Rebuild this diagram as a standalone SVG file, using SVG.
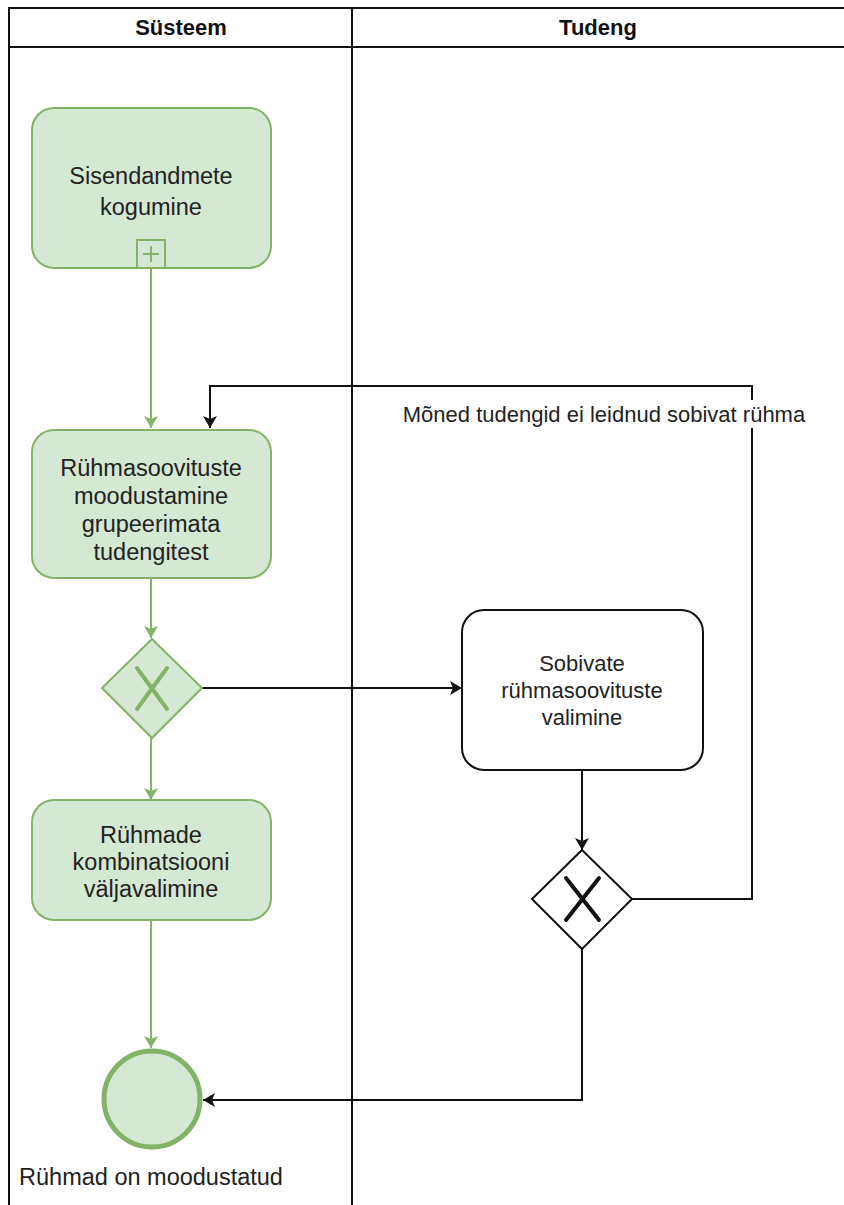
<svg xmlns="http://www.w3.org/2000/svg" width="844" height="1205" viewBox="0 0 844 1205">
<defs>
<style>
text{font-family:"Liberation Sans",Arial,sans-serif;font-size:22px;fill:#222;text-anchor:middle;}
.hdr{font-weight:bold;fill:#111;}
.big{font-size:23.5px;}
.lane{fill:none;stroke:#111;stroke-width:2;}
.gtask{fill:#d5e8d4;stroke:#82b366;stroke-width:2;}
.wtask{fill:#fff;stroke:#111;stroke-width:2;}
.gline{fill:none;stroke:#82b366;stroke-width:2;}
.bline{fill:none;stroke:#111;stroke-width:2;}
</style>
<marker id="ag" viewBox="0 0 12 14" refX="12" refY="7" markerWidth="12" markerHeight="14" markerUnits="userSpaceOnUse" orient="auto">
<path d="M0,0 L12,7 L0,14 L3,7 Z" fill="#82b366"/>
</marker>
<marker id="ab" viewBox="0 0 12 14" refX="12" refY="7" markerWidth="12" markerHeight="14" markerUnits="userSpaceOnUse" orient="auto">
<path d="M0,0 L12,7 L0,14 L3,7 Z" fill="#111"/>
</marker>
</defs>
<rect width="844" height="1205" fill="#fff"/>
<g id="pool">
<path class="lane" d="M9,1205 V8 H844 M9,47 H844 M352,8 V1205"/>
<text class="hdr" x="181" y="35">Süsteem</text>
<text class="hdr" x="598" y="35">Tudeng</text>
</g>
<g id="connectors">
<path class="gline" d="M151,268 V428" marker-end="url(#ag)"/>
<path class="gline" d="M151,578 V638" marker-end="url(#ag)"/>
<path class="gline" d="M151,738 V800" marker-end="url(#ag)"/>
<path class="gline" d="M151,920 V1048" marker-end="url(#ag)"/>
<path class="bline" d="M202,688 H462" marker-end="url(#ab)"/>
<path class="bline" d="M582,770 V850" marker-end="url(#ab)"/>
<path class="bline" d="M632,899 H752 V386 H210 V428" marker-end="url(#ab)"/>
<path class="bline" d="M582,949 V1100 H203" marker-end="url(#ab)"/>
<rect x="400" y="400" width="408" height="28" fill="#fff"/>
<text x="604" y="422">Mõned tudengid ei leidnud sobivat rühma</text>
</g>
<g id="task-sisend">
<rect class="gtask" x="32" y="108" width="239" height="160" rx="22"/>
<text class="big" x="151" y="184">Sisendandmete</text>
<text class="big" x="151" y="215">kogumine</text>
<rect class="gtask" x="137" y="240" width="28" height="28"/>
<path class="gline" d="M151,246 V262 M143,254 H159" stroke-width="1.5"/>
</g>
<g id="task-ruhmasoovitused">
<rect class="gtask" x="32" y="430" width="239" height="148" rx="22"/>
<text class="big" x="151" y="476">Rühmasoovituste</text>
<text class="big" x="151" y="504">moodustamine</text>
<text class="big" x="151" y="532">grupeerimata</text>
<text class="big" x="151" y="560">tudengitest</text>
</g>
<g id="gateway-1">
<path class="gtask" d="M152,639 L202,688 L152,738 L102,688 Z"/>
<path d="M137,668 L167,709 M167,668 L137,709" stroke="#82b366" stroke-width="4" stroke-linecap="round" fill="none"/>
</g>
<g id="task-kombinatsioon">
<rect class="gtask" x="32" y="800" width="239" height="120" rx="22"/>
<text class="big" x="151" y="843">Rühmade</text>
<text class="big" x="151" y="870">kombinatsiooni</text>
<text class="big" x="151" y="897">väljavalimine</text>
</g>
<g id="end-event">
<circle cx="152" cy="1099" r="48" fill="#d5e8d4" stroke="#82b366" stroke-width="5"/>
<text class="big" x="151" y="1185">Rühmad on moodustatud</text>
</g>
<g id="task-sobivate">
<rect class="wtask" x="462" y="610" width="241" height="160" rx="22"/>
<text x="582" y="671">Sobivate</text>
<text x="582" y="698">rühmasoovituste</text>
<text x="582" y="725">valimine</text>
</g>
<g id="gateway-2">
<path class="wtask" d="M582,850 L632,899 L582,949 L532,899 Z"/>
<path d="M566,878 L599,920 M599,878 L566,920" stroke="#111" stroke-width="4" stroke-linecap="round" fill="none"/>
</g>
</svg>
